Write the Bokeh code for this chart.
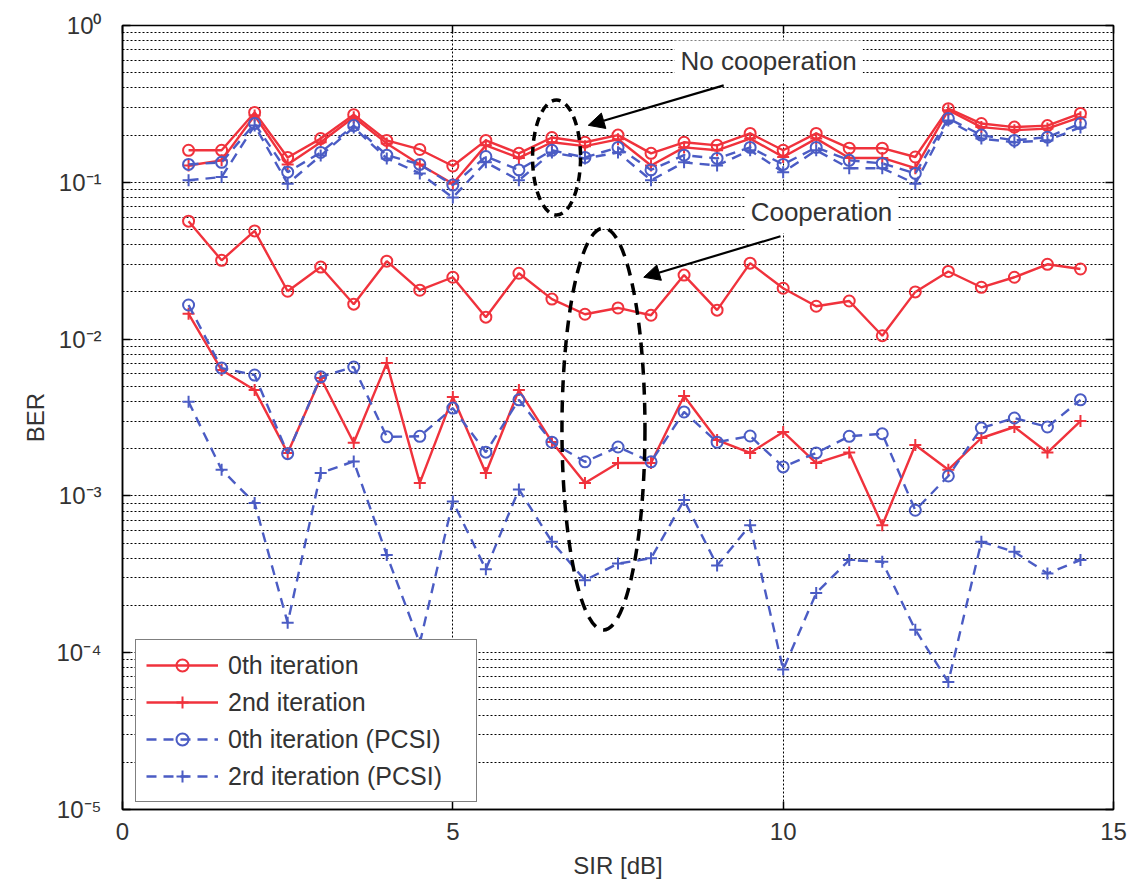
from bokeh.plotting import figure
from bokeh.models import (FixedTicker, CustomJSTickFormatter, Legend, LegendItem,
                          Arrow, NormalHead, Label, LogAxis, LinearAxis, Range1d)
from bokeh.embed import file_html
from bokeh.resources import INLINE

# ---------------- data ----------------
sir = [1, 1.5, 2, 2.5, 3, 3.5, 4, 4.5, 5, 5.5, 6, 6.5, 7, 7.5,
       8, 8.5, 9, 9.5, 10, 10.5, 11, 11.5, 12, 12.5, 13, 13.5, 14, 14.5]

# no cooperation
nc_it0 = [0.16, 0.16, 0.279, 0.144, 0.19, 0.27, 0.185, 0.162, 0.127, 0.185, 0.153, 0.193, 0.18, 0.2,
          0.153, 0.18, 0.172, 0.205, 0.16, 0.205, 0.165, 0.165, 0.145, 0.295, 0.237, 0.225, 0.23, 0.275]
nc_it2 = [0.128, 0.138, 0.267, 0.13, 0.18, 0.26, 0.177, 0.13, 0.098, 0.172, 0.143, 0.18, 0.17, 0.188,
          0.128, 0.167, 0.16, 0.19, 0.145, 0.19, 0.143, 0.143, 0.123, 0.288, 0.225, 0.215, 0.22, 0.26]
nc_it0_pcsi = [0.13, 0.134, 0.237, 0.116, 0.155, 0.23, 0.149, 0.13, 0.096, 0.146, 0.12, 0.16, 0.144, 0.167,
               0.12, 0.149, 0.142, 0.167, 0.13, 0.167, 0.138, 0.132, 0.114, 0.255, 0.2, 0.185, 0.194, 0.237]
nc_it2_pcsi = [0.103, 0.108, 0.23, 0.098, 0.148, 0.224, 0.142, 0.114, 0.08, 0.134, 0.103, 0.155, 0.142, 0.155,
               0.103, 0.134, 0.128, 0.16, 0.116, 0.16, 0.123, 0.123, 0.098, 0.248, 0.19, 0.18, 0.185, 0.224]

# cooperation
c_it0 = [0.0565, 0.0318, 0.049, 0.0202, 0.0288, 0.0167, 0.0314, 0.0205, 0.0248, 0.0138, 0.0263, 0.018, 0.0144, 0.0158,
         0.0142, 0.0256, 0.0153, 0.0305, 0.0211, 0.0162, 0.0175, 0.0105, 0.02, 0.027, 0.0214, 0.0248, 0.030, 0.028]
c_it2 = [0.0145, 0.00635, 0.00473, 0.00188, 0.00565, 0.00218, 0.00703, 0.00121, 0.00427, 0.0014, 0.00473, 0.00221,
         0.00121, 0.00162, 0.00162, 0.00434, 0.00227, 0.00188, 0.00256, 0.00162, 0.00189, 0.00065, 0.00211, 0.00147,
         0.00234, 0.00275, 0.00189, 0.003]
c_it0_pcsi = [0.0165, 0.00653, 0.0059, 0.00186, 0.00575, 0.00664, 0.00238, 0.0024, 0.00363, 0.0019, 0.0041, 0.0022,
              0.00165, 0.00205, 0.00165, 0.00343, 0.0022, 0.00241, 0.00153, 0.00188, 0.0024, 0.00249, 0.00081,
              0.00134, 0.00271, 0.00314, 0.00275, 0.0041]
c_it2_pcsi = [0.00398, 0.00147, 0.0009, 0.000155, 0.0014, 0.00166, 0.00042, 0.000115, 0.00092, 0.00034, 0.0011,
              0.00051, 0.00029, 0.00037, 0.0004, 0.00094, 0.00036, 0.00065, 0.000078, 0.00024, 0.00039, 0.00038,
              0.00014, 0.000065, 0.00051, 0.00044, 0.00032, 0.00039]

legend_labels = ["0th iteration", "2nd iteration", "0th iteration (PCSI)", "2rd iteration (PCSI)"]
x_ticks = [0, 5, 10, 15]
y_decades = [1e-5, 1e-4, 1e-3, 1e-2, 1e-1, 1e0]
y_minor = [k * d for d in y_decades[:-1] for k in range(2, 10)]

# ---------------- figure ----------------
FONT = "Liberation Sans"
TXT = "#333333"
RED = "#f0323c"
BLUE = "#4b5cc4"

p = figure(frame_width=991, frame_height=784,
           x_range=Range1d(0, 15), y_range=Range1d(1e-5, 1), y_axis_type="log",
           output_backend="svg", toolbar_location=None,
           min_border_left=122, min_border_top=25, min_border_right=22, min_border_bottom=20)
p.background_fill_color = "white"
p.outline_line_color = "black"
p.outline_line_width = 1.5

sup_js = r"""
const sup = {'-':'\u207B','0':'\u2070','1':'\u00B9','2':'\u00B2','3':'\u00B3','4':'\u2074',
             '5':'\u2075','6':'\u2076','7':'\u2077','8':'\u2078','9':'\u2079'};
const e = Math.round(Math.log10(tick));
return '10' + String(e).split('').map(c => sup[c]).join('');
"""

ax = p.xaxis[0]
ax.ticker = FixedTicker(ticks=x_ticks)
ay = p.yaxis[0]
ay.ticker = FixedTicker(ticks=y_decades, minor_ticks=y_minor)
ay.formatter = CustomJSTickFormatter(code=sup_js)

for a in (ax, ay):
    a.axis_line_color = "black"
    a.axis_line_width = 1.5
    a.major_tick_in = 8
    a.major_tick_out = 0
    a.minor_tick_in = 0
    a.minor_tick_out = 0
    a.major_tick_line_color = "black"
    a.major_tick_line_width = 1.5
    a.major_label_text_font = FONT
    a.major_label_text_font_size = "24px"
    a.major_label_text_color = TXT
    a.axis_label_text_font = FONT
    a.axis_label_text_font_size = "24px"
    a.axis_label_text_font_style = "normal"
    a.axis_label_text_color = TXT

ax.axis_label = "SIR [dB]"
ax.major_label_standoff = 13
ax.axis_label_standoff = 9
ay.axis_label = "BER"
ay.major_label_standoff = 21
ay.axis_label_standoff = 4

# box-style ticks on right and top
blank = CustomJSTickFormatter(code="return '';")
ry = LogAxis(ticker=FixedTicker(ticks=y_decades), formatter=blank, axis_line_color=None,
             major_tick_in=8, major_tick_out=0, minor_tick_in=0, minor_tick_out=0,
             major_tick_line_width=1.5, major_label_text_font_size="1px", major_label_standoff=0)
p.add_layout(ry, "right")
tx = LinearAxis(ticker=FixedTicker(ticks=x_ticks), formatter=blank, axis_line_color=None,
                major_tick_in=8, major_tick_out=0, minor_tick_in=0, minor_tick_out=0,
                major_tick_line_width=1.5, major_label_text_font_size="1px", major_label_standoff=0)
p.add_layout(tx, "above")

for grid in (p.xgrid, p.ygrid):
    grid.grid_line_color = "black"
    grid.grid_line_dash = "2 2"
    grid.grid_line_alpha = 1.0
p.ygrid.minor_grid_line_color = "black"
p.ygrid.minor_grid_line_dash = "2 2"
p.ygrid.minor_grid_line_alpha = 1.0

# ---------------- series ----------------
styles = [
    (RED, "solid", "circle"),
    (RED, "solid", "cross"),
    (BLUE, "10 7", "circle"),
    (BLUE, "10 7", "cross"),
]
groups = [
    [nc_it0, nc_it2, nc_it0_pcsi, nc_it2_pcsi],
    [c_it0, c_it2, c_it0_pcsi, c_it2_pcsi],
]
legend_renderers = [[], [], [], []]
for g in groups:
    for i, ys in enumerate(g):
        col, dash, mk = styles[i]
        lr = p.line(sir, ys, line_color=col, line_width=2.4, line_dash=dash)
        sr = p.scatter(sir, ys, marker=mk, size=11 if mk == "circle" else 12,
                       line_color=col, line_width=2, fill_color=None)
        legend_renderers[i] = [lr, sr]

legend = Legend(items=[LegendItem(label=legend_labels[i], renderers=legend_renderers[i]) for i in range(4)],
                location=(13, 7), label_text_font=FONT, label_text_font_size="25px",
                label_text_color=TXT, glyph_width=72, glyph_height=30, spacing=7,
                padding=10, margin=0, label_standoff=10, label_height=30, label_width=238,
                border_line_color="black", border_line_width=1.5,
                background_fill_color="white", background_fill_alpha=1.0)
p.add_layout(legend)

# ---------------- annotations ----------------
p.ellipse(x=[6.57], y=[0.144], width=48, height=115, width_units="screen", height_units="screen",
          fill_color=None, line_color="black", line_width=3.5, line_dash="9 6")
p.ellipse(x=[7.28], y=[0.00267], width=83, height=402, width_units="screen", height_units="screen",
          fill_color=None, line_color="black", line_width=3.5, line_dash="12 8")

p.add_layout(Arrow(end=NormalHead(size=16, fill_color="black", line_color="black"),
                   x_start=9.10, y_start=0.415, x_end=7.05, y_end=0.231,
                   line_color="black", line_width=2.2))
p.add_layout(Arrow(end=NormalHead(size=16, fill_color="black", line_color="black"),
                   x_start=9.96, y_start=0.0453, x_end=7.89, y_end=0.0248,
                   line_color="black", line_width=2.2))

p.add_layout(Label(x=9.78, y=0.59, text="No cooperation", text_align="center", text_baseline="middle",
                   text_font=FONT, text_font_size="26px", text_color=TXT,
                   background_fill_color="white", padding=6))
p.add_layout(Label(x=10.58, y=0.0644, text="Cooperation", text_align="center", text_baseline="middle",
                   text_font=FONT, text_font_size="26px", text_color=TXT,
                   background_fill_color="white", padding=6))

open("out.html", "w", encoding="utf-8").write(file_html(p, INLINE))
